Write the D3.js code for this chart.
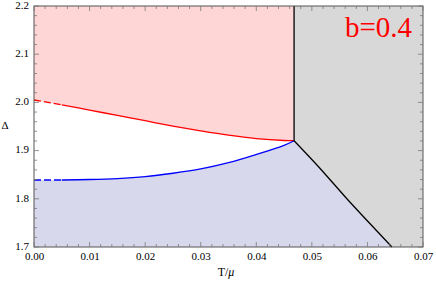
<!DOCTYPE html>
<html><head><meta charset="utf-8">
<script src="https://cdn.jsdelivr.net/npm/d3@7"></script>
<style>body{margin:0;background:#fff}svg{display:block}
svg text{font-family:"Liberation Serif","Times New Roman",Times,serif !important}</style>
</head><body>
<svg id="c" width="436" height="284"></svg>
<script>
const xTicks = [0, 0.01, 0.02, 0.03, 0.04, 0.05, 0.06, 0.07];
const yTicks = [1.7, 1.8, 1.9, 2.0, 2.1, 2.2];
const redT = [0, 0.005, 0.01, 0.015, 0.02, 0.025, 0.03, 0.035, 0.04, 0.045, 0.0468];
const redD = [2.005, 1.995, 1.984, 1.973, 1.962, 1.951, 1.941, 1.932, 1.925, 1.921, 1.9205];
const blueT = [0, 0.005, 0.01, 0.015, 0.02, 0.025, 0.03, 0.035, 0.04, 0.045, 0.0468];
const blueD = [1.839, 1.839, 1.840, 1.842, 1.846, 1.853, 1.862, 1.875, 1.892, 1.911, 1.9205];
const blackT = [0.0468, 0.0512, 0.0563, 0.0620, 0.0644];
const blackD = [1.9205, 1.8666, 1.8002, 1.7295, 1.700];
const dashEnd = 0.005;
const label = "b=0.4";

const svg = d3.select("#c");
const L = 34, R = 423, T = 6, B = 247;
const x = d3.scaleLinear().domain([0, 0.07]).range([L, R]);
const y = d3.scaleLinear().domain([1.7, 2.2]).range([B, T]);
const pts = (ts, ds) => ts.map((t, i) => [x(t), y(ds[i])]);
const red = pts(redT, redD), blue = pts(blueT, blueD), black = pts(blackT, blackD);
const tc = blackT[0];

const smooth = d3.line().curve(d3.curveCatmullRom);
const open = p => smooth(p).slice(1);
svg.append("path").attr("d", smooth(red) + `L${x(tc)},${y(2.2)}L${x(0)},${y(2.2)}Z`).attr("fill", "#ffd6d6");
svg.append("path").attr("d", `M${x(tc)},${y(2.2)}L${x(0.07)},${y(2.2)}L${x(0.07)},${y(1.7)}L` + open(black.slice().reverse()) + "Z").attr("fill", "#d8d8d8");
svg.append("path").attr("d", smooth(blue) + "L" + open(black) + `L${x(0)},${y(1.7)}Z`).attr("fill", "#d8d8ec");

function drawCurve(ts, ds, color) {
  const i0 = ts.findIndex(t => t >= dashEnd);
  const dashed = pts(ts.slice(0, i0 + 1), ds.slice(0, i0 + 1));
  const solid = pts(ts.slice(i0), ds.slice(i0));
  svg.append("path").attr("d", smooth(dashed)).attr("fill", "none").attr("stroke", color)
    .attr("stroke-width", 1.3).attr("stroke-dasharray", "7,3");
  svg.append("path").attr("d", smooth(solid)).attr("fill", "none").attr("stroke", color).attr("stroke-width", 1.3);
}
drawCurve(redT, redD, "#ff0000");
drawCurve(blueT, blueD, "#0000ff");
svg.append("line").attr("x1", x(tc)).attr("x2", x(tc)).attr("y1", y(blackD[0])).attr("y2", y(2.2))
  .attr("stroke", "#000").attr("stroke-width", 1.3);
svg.append("path").attr("d", smooth(black)).attr("fill", "none").attr("stroke", "#000").attr("stroke-width", 1.3);

svg.append("rect").attr("x", L).attr("y", T).attr("width", R - L).attr("height", B - T)
  .attr("fill", "none").attr("stroke", "#555").attr("stroke-width", 1);

const tickCol = "#777";
const minorX = d3.range(0, 0.0701, 0.002);
const minorY = d3.range(1.7, 2.2001, 0.02);
minorX.forEach(v => {
  const major = xTicks.some(t => Math.abs(t - v) < 1e-9);
  const len = major ? 5 : 3;
  [[B, -1], [T, 1]].forEach(([yy, s]) => svg.append("line").attr("x1", x(v)).attr("x2", x(v))
    .attr("y1", yy).attr("y2", yy + s * len).attr("stroke", tickCol).attr("stroke-width", 0.8));
});
minorY.forEach(v => {
  const major = yTicks.some(t => Math.abs(t - v) < 1e-9);
  const len = major ? 5 : 3;
  [[L, 1], [R, -1]].forEach(([xx, s]) => svg.append("line").attr("y1", y(v)).attr("y2", y(v))
    .attr("x1", xx).attr("x2", xx + s * len).attr("stroke", tickCol).attr("stroke-width", 0.8));
});

const xa = d3.axisBottom(x).tickValues(xTicks).tickFormat(d3.format(".2f")).tickSize(0).tickPadding(5);
const gx = svg.append("g").attr("transform", `translate(0,${B})`).call(xa);
gx.attr("font-size", 11);
gx.select(".domain").remove();
gx.selectAll("text").attr("fill", "#000");
const ya = d3.axisLeft(y).tickValues(yTicks).tickFormat(d3.format(".1f")).tickSize(0).tickPadding(5);
const gy = svg.append("g").attr("transform", `translate(${L},0)`).call(ya);
gy.attr("font-size", 11);
gy.select(".domain").remove();
gy.selectAll("text").attr("fill", "#000").attr("dy", "0.2em");

svg.append("text").attr("x", 5).attr("y", 129).attr("text-anchor", "middle")
  .attr("font-size", 11).text("Δ");
const tl = svg.append("text").attr("x", 226).attr("y", 276).attr("text-anchor", "middle")
  .attr("font-size", 12);
tl.append("tspan").text("T/");
tl.append("tspan").attr("font-style", "italic").text("μ");

svg.append("text").attr("x", 412).attr("y", 37).attr("text-anchor", "end")
  .attr("font-size", 29).attr("fill", "#ff0000").text(label);
</script>
</body></html>
